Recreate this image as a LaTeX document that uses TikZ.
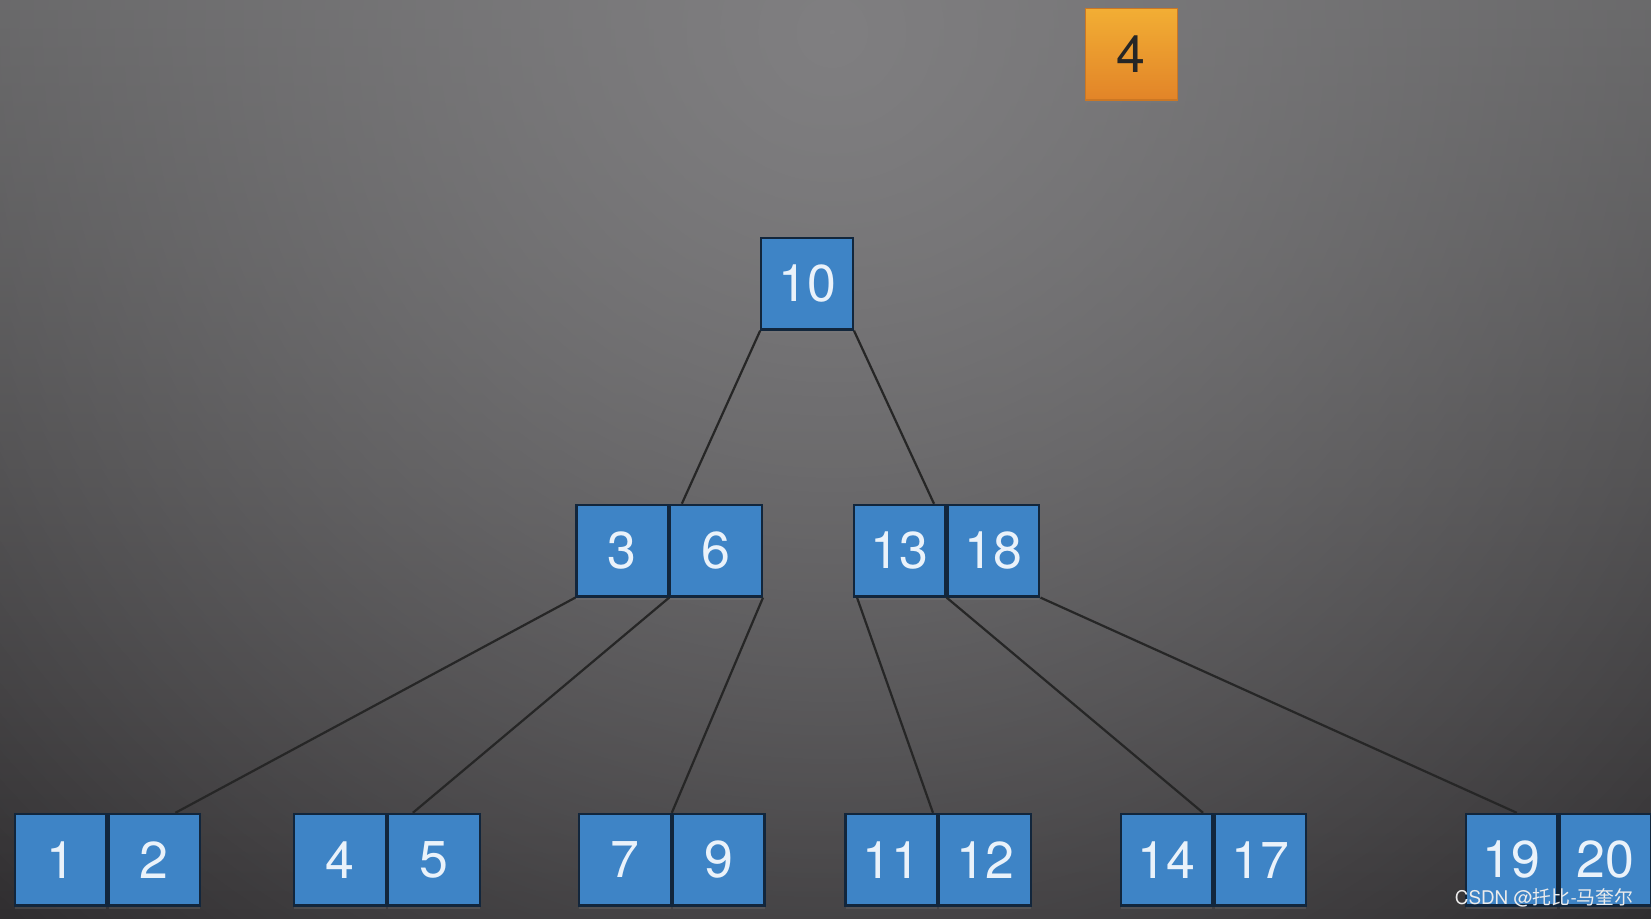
\documentclass[tikz,border=0pt]{standalone}
\usepackage{fontspec}
\setmainfont{TeX Gyre Heros}
\newfontfamily\cjkfont{Noto Sans CJK SC}
\usetikzlibrary{positioning,fadings,shadows}

\definecolor{bgdark}{RGB}{48,46,48}
\definecolor{bgmid}{RGB}{84,84,85}
\definecolor{bgtop}{RGB}{96,96,97}
\definecolor{bglight}{RGB}{128,127,129}
\definecolor{keyblue}{RGB}{62,132,198}
\definecolor{keyline}{RGB}{18,38,60}
\definecolor{keytext}{RGB}{234,242,250}
\definecolor{newtop}{RGB}{242,174,52}
\definecolor{newbot}{RGB}{226,132,40}

\tikzfading[name=glow, inner color=transparent!0, outer color=transparent!100]

\tikzset{
  keycell/.style={draw=keyline, line width=0.6pt, fill=keyblue, text=keytext,
    minimum width=8.7mm, minimum height=8.7mm, inner sep=0pt,
    font=\fontsize{14}{16}\selectfont,
    drop shadow={shadow xshift=0pt, shadow yshift=-0.3mm, opacity=0.25}},
  newkey/.style={keycell, draw=newbot!90!black, line width=0.3pt,
    top color=newtop, bottom color=newbot, text=black!85},
  link/.style={line width=0.6pt, black!85}
}

\begin{document}
\begin{tikzpicture}[x=0.1mm, y=-0.1mm]
\useasboundingbox (0,0) rectangle (1568,872);

% background
\begin{scope}
\clip (0,0) rectangle (1568,872);
\shade[top color=bgtop, middle color=bgmid, bottom color=bgdark] (0,0) rectangle (1568,872);
\fill[bglight, path fading=glow] (790,30) circle (1150);
\end{scope}

% key to insert
\node[newkey] (new4) at (1074.5,51.5) {4};

% root
\node[keycell] (k10) at (766.5,269.5) {10};

% second level
\node[keycell] (k3) at (591,523) {3};
\node[keycell, right=0pt of k3] (k6) {6};
\node[keycell] (k13) at (854.5,523) {13};
\node[keycell, right=0pt of k13] (k18) {18};

% leaves
\node[keycell] (k1) at (57.5,816.5) {1};
\node[keycell, right=0pt of k1] (k2) {2};
\node[keycell] (k4) at (323,816.5) {4};
\node[keycell, right=0pt of k4] (k5) {5};
\node[keycell] (k7) at (593.5,816.5) {7};
\node[keycell, right=0pt of k7] (k9) {9};
\node[keycell] (k11) at (846.5,816.5) {11};
\node[keycell, right=0pt of k11] (k12) {12};
\node[keycell] (k14) at (1108,816.5) {14};
\node[keycell, right=0pt of k14] (k17) {17};
\node[keycell] (k19) at (1435.5,816.5) {19};
\node[keycell, right=0pt of k19] (k20) {20};

% links
\draw[link] (k10.south west) -- ([xshift=1.2mm]k3.north east);
\draw[link] (k10.south east) -- ([xshift=-1.2mm]k13.north east);
\draw[link] (k3.south west) -- ([xshift=2mm]k2.north);
\draw[link] (k3.south east) -- ([xshift=-2mm]k5.north);
\draw[link] (k6.south east) -- (k7.north east);
\draw[link] ([xshift=0.4mm]k13.south west) -- ([xshift=-0.5mm]k11.north east);
\draw[link] (k13.south east) -- ([xshift=-1mm]k14.north east);
\draw[link] (k18.south east) -- ([xshift=0.5mm]k19.north);

% watermark
\node[text=white!85!gray, font=\fontsize{5.1}{6}\selectfont, inner sep=0pt, anchor=east] (mark)
  at (1552,853) {CSDN @{\cjkfont 托比}-{\cjkfont 马奎尔}};
\end{tikzpicture}
\end{document}
